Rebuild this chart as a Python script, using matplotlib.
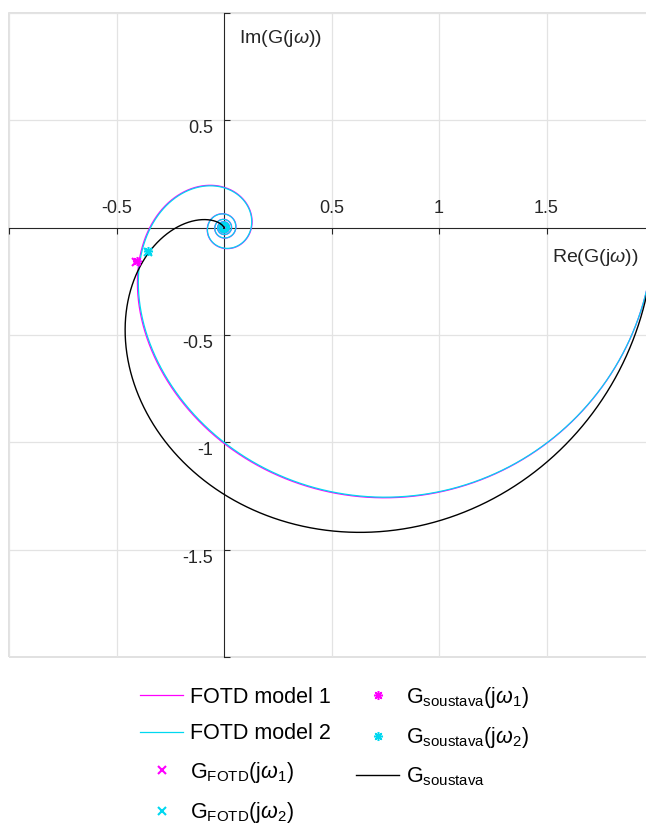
import numpy as np
import matplotlib
matplotlib.use("Agg")
import matplotlib.pyplot as plt
from matplotlib.patches import Rectangle

# FOTD models  G(s) = K e^{-Ls} / (T s + 1)
fotd_gain = [2.0, 2.0]
fotd_time_const = [1.0, 1.0]
fotd_delay = [0.306, 0.302]
fotd_labels = ["FOTD model 1", "FOTD model 2"]

# process  G(s) = K / prod(T_i s + 1)
sys_gain = 2.0
sys_time_consts = [1.0, 0.5, 0.5]

# frequency grid [rad/s]
freq_min_exp = -3
freq_max_exp = 2.3

# points (Re, Im)
fotd_pts_re = [-0.41, -0.355]
fotd_pts_im = [-0.16, -0.115]
sys_pts_re = [-0.405, -0.355]
sys_pts_im = [-0.155, -0.11]

x_ticks = [-1, -0.5, 0.5, 1, 1.5, 2]
x_tick_labels = ["", "-0.5", "0.5", "1", "1.5", ""]
y_ticks = [-2, -1.5, -1, -0.5, 0.5, 1]
y_tick_labels = ["", "-1.5", "-1", "-0.5", "0.5", ""]

colors = ["#ff00ff", "#00d8f0"]

plt.rcParams["font.family"] = ["Liberation Sans", "DejaVu Sans"]
plt.rcParams["mathtext.fontset"] = "custom"
plt.rcParams["mathtext.rm"] = "Liberation Sans"
plt.rcParams["mathtext.it"] = "Liberation Sans:italic"


def fotd_response(k: float, t: float, l: float, w: np.ndarray) -> np.ndarray:
    s = 1j * w
    return k * np.exp(-l * s) / (t * s + 1)


def sys_response(w: np.ndarray) -> np.ndarray:
    s = 1j * w
    den = np.ones_like(s)
    for t in sys_time_consts:
        den = den * (t * s + 1)
    return sys_gain / den


w_fotd = np.logspace(freq_min_exp, freq_max_exp, 80000)
w_sys = np.logspace(freq_min_exp, freq_max_exp, 6000)

fig = plt.figure(figsize=(6.46, 8.25), dpi=100)
ax = fig.add_axes([9 / 646, 168 / 825, 645 / 646, 644 / 825])

handles = []
for k, t, l, c, lab in zip(fotd_gain, fotd_time_const, fotd_delay, colors, fotd_labels):
    g = fotd_response(k, t, l, w_fotd)
    h, = ax.plot(g.real, g.imag, color=c, lw=0.9, label=lab, zorder=3)
    handles.append(h)

for i, c in enumerate(colors):
    h, = ax.plot(fotd_pts_re[i], fotd_pts_im[i], ls="none", marker="x", ms=5.5, mew=1.5,
                 color=c, label=f"G$_{{\\mathrm{{FOTD}}}}$(j$\\omega_{i + 1}$)", zorder=5)
    handles.append(h)

for i, c in enumerate(colors):
    h, = ax.plot(sys_pts_re[i], sys_pts_im[i], ls="none", marker=(8, 2, 0), ms=6.5, mew=1.1,
                 color=c, label=f"G$_{{\\mathrm{{soustava}}}}$(j$\\omega_{i + 1}$)", zorder=6)
    handles.append(h)

g_sys = sys_response(w_sys)
h, = ax.plot(g_sys.real, g_sys.imag, color="black", lw=1.0,
             label="G$_{\\mathrm{soustava}}$", zorder=4)
handles.append(h)

ax.set_xlim(-1, 2)
ax.set_ylim(-2, 1)

# axes through the origin, matlab style
for side in ["top", "right"]:
    ax.spines[side].set_visible(False)
ax.spines["left"].set_position(("data", 0))
ax.spines["bottom"].set_position(("data", 0))
ax.spines["left"].set_color("#262626")
ax.spines["bottom"].set_color("#262626")
ax.add_patch(Rectangle((0, 0), 1, 1, transform=ax.transAxes, fill=False,
                       ec="#dcdcdc", lw=1.2, zorder=0.5, clip_on=False))

ax.set_xticks(x_ticks)
ax.set_xticklabels(x_tick_labels)
ax.set_yticks(y_ticks)
ax.set_yticklabels(y_tick_labels)
ax.tick_params(axis="x", direction="out", length=4, pad=-12, labelsize=13, colors="#262626")
ax.tick_params(axis="y", direction="in", length=4, pad=8, labelsize=13, colors="#262626")
plt.setp(ax.get_xticklabels(), va="bottom")
plt.setp(ax.get_yticklabels(), va="top")
ax.grid(True, color="#e3e3e3", lw=0.9)
ax.set_axisbelow(True)

ax.text(0.3566, 0.961, "Im(G(j$\\omega$))", transform=ax.transAxes,
        ha="left", va="center", fontsize=14, color="#262626")
ax.text(0.842, 0.6196, "Re(G(j$\\omega$))", transform=ax.transAxes,
        ha="left", va="center", fontsize=14, color="#262626")

fig.legend(handles=handles, loc="upper left", bbox_to_anchor=(140 / 646, 0.1700),
           ncol=2, frameon=False, fontsize=15.5, handlelength=2.0, handletextpad=0.3,
           columnspacing=1.2, labelspacing=0.72, borderpad=0, borderaxespad=0)

fig.savefig("out.png", dpi=100)
